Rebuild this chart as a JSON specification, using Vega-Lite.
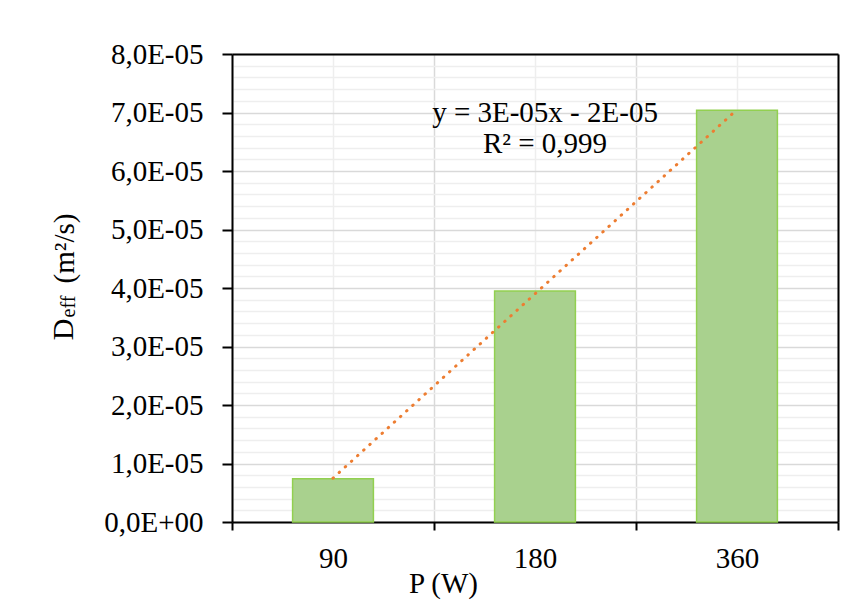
{
  "$schema": "https://vega.github.io/schema/vega-lite/v6.json",
  "width": 606,
  "height": 468,
  "autosize": "none",
  "padding": {"left": 232, "top": 54, "right": 27, "bottom": 91},
  "background": "white",
  "config": {
    "font": "Liberation Serif",
    "view": {"stroke": null},
    "axis": {"labelFont": "Liberation Serif", "titleFont": "Liberation Serif", "labelColor": "black", "titleColor": "black", "titleFontWeight": "normal"}
  },
  "data": {
    "values": [
      {"P": "90", "D": 7.4e-6, "Trend": 7.5e-6},
      {"P": "180", "D": 3.95e-5, "Trend": 3.9e-5},
      {"P": "360", "D": 7.04e-5, "Trend": 7.05e-5}
    ]
  },
  "resolve": {"axis": {"x": "independent", "y": "independent"}},
  "layer": [
    {
      "mark": {"type": "bar", "width": {"band": 0.4}, "fill": "#a9d18e", "stroke": "#92d050", "strokeWidth": 1.5},
      "encoding": {
        "x": {
          "field": "P", "type": "nominal", "sort": ["90", "180", "360"],
          "scale": {"paddingInner": 0, "paddingOuter": 0},
          "axis": {
            "orient": "bottom", "tickBand": "extent", "grid": true, "gridColor": "#d9d9d9", "gridWidth": 1.5,
            "domainColor": "black", "domainWidth": 2, "tickColor": "black", "tickWidth": 2, "tickSize": 8,
            "labelFontSize": 29, "labelPadding": 14, "labelAngle": 0,
            "title": "P (W)", "titleFontSize": 29, "titleX": 211, "titleY": 70, "titleBaseline": "alphabetic", "titleAlign": "center"
          }
        },
        "y": {
          "field": "D", "type": "quantitative",
          "scale": {"domain": [0, 8e-5], "nice": false, "zero": true},
          "axis": {
            "orient": "left",
            "values": [0, 1e-5, 2e-5, 3e-5, 4e-5, 5e-5, 6e-5, 7e-5, 8e-5],
            "labelExpr": "datum.value == 0 ? '0,0E+00' : replace(format(datum.value * 100000, '.1f'), '.', ',') + 'E-05'",
            "grid": true, "gridColor": "#d9d9d9", "gridWidth": 1.5,
            "domainColor": "black", "domainWidth": 2, "tickColor": "black", "tickWidth": 2, "tickSize": 10,
            "labelFontSize": 29, "labelPadding": 19,
            "title": "D", "titleFontSize": 30, "titleAngle": -90, "titleX": -160, "titleY": 275, "titleBaseline": "alphabetic", "titleAlign": "center"
          }
        }
      }
    },
    {
      "mark": {"type": "line", "color": "#ed7d31", "strokeWidth": 3, "strokeDash": [0.5, 7.8], "strokeCap": "round"},
      "encoding": {
        "x": {
          "field": "P", "type": "nominal", "sort": ["90", "180", "360"],
          "axis": {"orient": "bottom", "grid": true, "gridColor": "#eeeeee", "gridWidth": 1.5, "domain": false, "ticks": false, "labels": false, "title": null}
        },
        "y": {
          "field": "Trend", "type": "quantitative",
          "axis": {
            "orient": "left",
            "values": [2e-6, 4e-6, 6e-6, 8e-6, 1.2e-5, 1.4e-5, 1.6e-5, 1.8e-5, 2.2e-5, 2.4e-5, 2.6e-5, 2.8e-5, 3.2e-5, 3.4e-5, 3.6e-5, 3.8e-5, 4.2e-5, 4.4e-5, 4.6e-5, 4.8e-5, 5.2e-5, 5.4e-5, 5.6e-5, 5.8e-5, 6.2e-5, 6.4e-5, 6.6e-5, 6.8e-5, 7.2e-5, 7.4e-5, 7.6e-5, 7.8e-5],
            "grid": true, "gridColor": "#eeeeee", "gridWidth": 1.5, "domain": false, "ticks": false, "labels": false,
            "title": "eff", "titleFontSize": 20, "titleAngle": -90, "titleX": -158, "titleY": 252, "titleBaseline": "alphabetic", "titleAlign": "center"
          }
        }
      }
    },
    {
      "data": {"values": [{"P": "180", "Pos": 7.0e-5, "Label": "y = 3E-05x - 2E-05\nR² = 0,999"}]},
      "mark": {"type": "text", "font": "Liberation Serif", "fontSize": 29, "lineBreak": "\n", "lineHeight": 31, "baseline": "middle", "align": "center", "dx": 10, "color": "black"},
      "encoding": {
        "x": {"field": "P", "type": "nominal", "sort": ["90", "180", "360"], "axis": null},
        "y": {
          "field": "Pos", "type": "quantitative",
          "axis": {
            "orient": "left", "grid": false, "domain": false, "ticks": false, "labels": false,
            "title": "(m²/s)", "titleFontSize": 29, "titleAngle": -90, "titleX": -159, "titleY": 194, "titleBaseline": "alphabetic", "titleAlign": "center"
          }
        },
        "text": {"field": "Label", "type": "nominal"}
      }
    },
    {
      "mark": {"type": "point", "opacity": 0},
      "encoding": {
        "x": {
          "field": "P", "type": "nominal", "sort": ["90", "180", "360"],
          "axis": {"orient": "top", "grid": false, "domain": true, "domainColor": "black", "domainWidth": 2, "ticks": false, "labels": false, "title": null, "zindex": 1}
        },
        "y": {
          "field": "D", "type": "quantitative",
          "axis": {"orient": "right", "grid": false, "domain": true, "domainColor": "black", "domainWidth": 2, "ticks": false, "labels": false, "title": null, "zindex": 1}
        }
      }
    }
  ]
}
